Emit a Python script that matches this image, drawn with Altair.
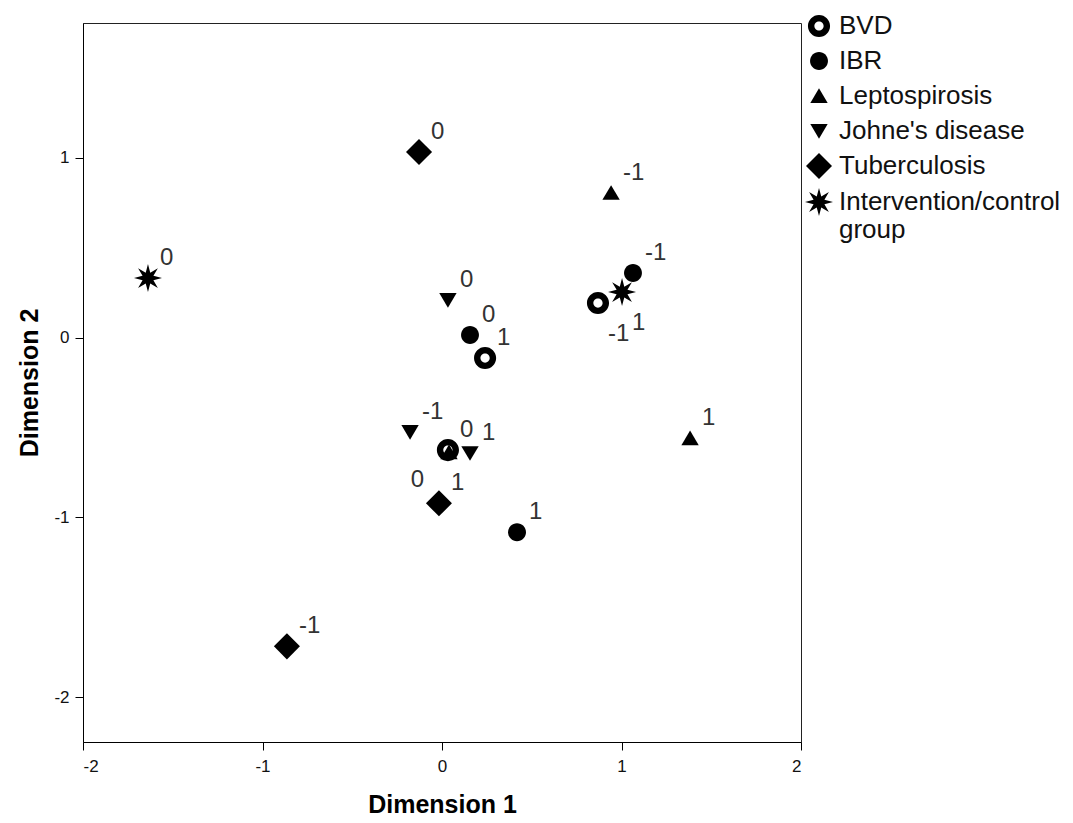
import math
import altair as alt
import pandas as pd

# ---- data ----
series = ["BVD", "BVD", "BVD",
          "IBR", "IBR", "IBR",
          "Leptospirosis", "Leptospirosis", "Leptospirosis",
          "Johne's disease", "Johne's disease", "Johne's disease",
          "Tuberculosis", "Tuberculosis", "Tuberculosis",
          "Intervention/control group", "Intervention/control group"]
dim1 = [0.869, 0.240, 0.033,
        1.064, 0.156, 0.418,
        0.942, 1.382, 0.039,
        0.033, 0.156, -0.178,
        -0.128, -0.017, -0.864,
        1.003, -1.638]
dim2 = [0.192, -0.114, -0.626,
        0.359, 0.014, -1.083,
        0.805, -0.560, -0.638,
        0.209, -0.643, -0.526,
        1.032, -0.922, -1.718,
        0.253, 0.331]
category = ["-1", "1", "0",
            "-1", "0", "1",
            "-1", "1", "0",
            "0", "1", "-1",
            "0", "1", "-1",
            "1", "0"]
label_pos = ["br", "ur", "ur",
             "ur", "ur", "ur",
             "ur", "ur", "bl",
             "ur", "ur", "ur",
             "ur", "ur", "ur",
             "br", "ur"]

series_order = ["BVD", "IBR", "Leptospirosis", "Johne's disease",
                "Tuberculosis", "Intervention/control group"]
x_ticks = [-2, -1, 0, 1, 2]
y_ticks = [-2, -1, 0, 1]

df = pd.DataFrame({"series": series, "dim1": dim1, "dim2": dim2,
                   "category": category, "pos": label_pos})


# ---- marker shapes (unit box paths) ----
def circle_path(r, sweep=1):
    return (f"M{r},0A{r},{r},0,1,{sweep},{-r},0"
            f"A{r},{r},0,1,{sweep},{r},0Z")


def star_path(n=8, ro=1.0, ri=0.42):
    pts = []
    for k in range(2 * n):
        a = -math.pi / 2 + k * math.pi / n
        r = ro if k % 2 == 0 else ri
        pts.append(f"{r * math.cos(a):.3f},{r * math.sin(a):.3f}")
    return "M" + "L".join(pts) + "Z"


ring = circle_path(0.79, 1) + circle_path(0.33, 0)
dot = circle_path(0.64)
tri_up = "M0,-0.55L0.62,0.5L-0.62,0.5Z"
tri_down = "M0,0.55L0.62,-0.5L-0.62,-0.5Z"
diamond = "M0,-0.93L0.93,0L0,0.93L-0.93,0Z"
star = star_path()
shape_range = [ring, dot, tri_up, tri_down, diamond, star]

FONT = "Liberation Sans"
NARROW = "Liberation Sans Narrow, Liberation Sans"

x_enc = alt.X("dim1:Q",
              scale=alt.Scale(domain=[-2, 2], nice=False, zero=False),
              axis=alt.Axis(values=x_ticks, title="Dimension 1", grid=False,
                            labelExpr="datum.value + ''", tickSize=8,
                            labelPadding=8,
                            labelFontSize=17, labelFont=NARROW,
                            labelColor="#111", domainColor="#000",
                            tickColor="#000", titleFont=FONT,
                            titleFontSize=25, titleFontWeight="bold",
                            titleColor="#000", titlePadding=18))
y_enc = alt.Y("dim2:Q",
              scale=alt.Scale(domain=[-2.25, 1.75], nice=False, zero=False),
              axis=alt.Axis(values=y_ticks, title="Dimension 2", grid=False,
                            labelExpr="datum.value + ''", tickSize=8,
                            labelPadding=6,
                            labelFontSize=17, labelFont=NARROW,
                            labelColor="#111", domainColor="#000",
                            tickColor="#000", titleFont=FONT,
                            titleFontSize=25, titleFontWeight="bold",
                            titleColor="#000", titlePadding=11))

base = alt.Chart(df)

points = base.mark_point(filled=True, size=784, opacity=1, color="black",
                         strokeWidth=0).encode(
    x=x_enc, y=y_enc,
    shape=alt.Shape("series:N",
                    scale=alt.Scale(domain=series_order, range=shape_range),
                    legend=alt.Legend(
                        title=None, orient="none", legendX=722, legendY=-11,
                        padding=0, symbolSize=784, symbolFillColor="black",
                        symbolStrokeWidth=0, symbolOpacity=1,
                        labelFont=FONT, labelFontSize=26, labelColor="#111",
                        labelLimit=400, labelOffset=6, rowPadding=8,
                        labelExpr=("datum.label == 'Intervention/control group'"
                                   " ? ['Intervention/control', 'group']"
                                   " : datum.label"))),
)

text_style = dict(font=FONT, fontSize=24, color="#333", baseline="alphabetic")

labels_ur = base.transform_filter(alt.datum.pos == "ur").mark_text(
    align="left", dx=12, dy=-13, **text_style).encode(
    x="dim1:Q", y="dim2:Q", text="category:N")
labels_br = base.transform_filter(alt.datum.pos == "br").mark_text(
    align="left", dx=10, dy=38, **text_style).encode(
    x="dim1:Q", y="dim2:Q", text="category:N")
labels_bl = base.transform_filter(alt.datum.pos == "bl").mark_text(
    align="right", dx=-25, dy=35, **text_style).encode(
    x="dim1:Q", y="dim2:Q", text="category:N")

chart = alt.layer(points, labels_ur, labels_br, labels_bl).properties(
    width=718, height=719,
    autosize=alt.AutoSizeParams(type="none"),
    padding={"left": 75, "top": 15, "right": 264, "bottom": 80},
    background="white",
).configure_view(stroke="#222", strokeWidth=1)

chart.save("out.html", embed_options={"renderer": "svg", "actions": False})
